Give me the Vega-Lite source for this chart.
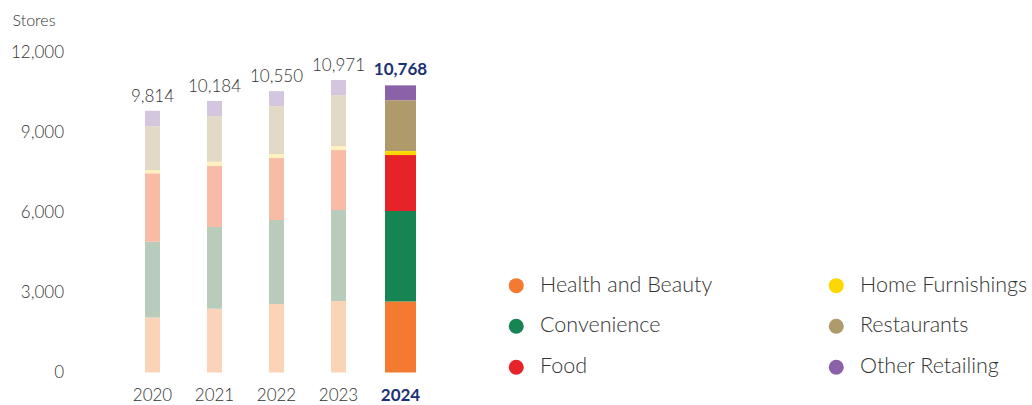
{
  "$schema": "https://vega.github.io/schema/vega-lite/v6.json",
  "width": 310,
  "height": 320,
  "autosize": "none",
  "padding": {"left": 121.5, "top": 52.5, "right": 600.5, "bottom": 32.5},
  "config": {"view": {"stroke": null}, "font": "Lato", "axis": {"labelFontWeight": 300}, "legend": {"labelFontWeight": 300}},
  "data": {"values": [
    {"year": "2020", "category": "Health and Beauty", "stores": 2060},
    {"year": "2020", "category": "Convenience", "stores": 2846},
    {"year": "2020", "category": "Food", "stores": 2562},
    {"year": "2020", "category": "Home Furnishings", "stores": 124},
    {"year": "2020", "category": "Restaurants", "stores": 1648},
    {"year": "2020", "category": "Other Retailing", "stores": 574},
    {"year": "2021", "category": "Health and Beauty", "stores": 2386},
    {"year": "2021", "category": "Convenience", "stores": 3071},
    {"year": "2021", "category": "Food", "stores": 2285},
    {"year": "2021", "category": "Home Furnishings", "stores": 161},
    {"year": "2021", "category": "Restaurants", "stores": 1711},
    {"year": "2021", "category": "Other Retailing", "stores": 570},
    {"year": "2022", "category": "Health and Beauty", "stores": 2573},
    {"year": "2022", "category": "Convenience", "stores": 3146},
    {"year": "2022", "category": "Food", "stores": 2322},
    {"year": "2022", "category": "Home Furnishings", "stores": 150},
    {"year": "2022", "category": "Restaurants", "stores": 1798},
    {"year": "2022", "category": "Other Retailing", "stores": 561},
    {"year": "2023", "category": "Health and Beauty", "stores": 2685},
    {"year": "2023", "category": "Convenience", "stores": 3409},
    {"year": "2023", "category": "Food", "stores": 2247},
    {"year": "2023", "category": "Home Furnishings", "stores": 150},
    {"year": "2023", "category": "Restaurants", "stores": 1910},
    {"year": "2023", "category": "Other Retailing", "stores": 570},
    {"year": "2024", "category": "Health and Beauty", "stores": 2659},
    {"year": "2024", "category": "Convenience", "stores": 3397},
    {"year": "2024", "category": "Food", "stores": 2098},
    {"year": "2024", "category": "Home Furnishings", "stores": 149},
    {"year": "2024", "category": "Restaurants", "stores": 1910},
    {"year": "2024", "category": "Other Retailing", "stores": 555}
  ]},
  "encoding": {
    "x": {
      "field": "year", "type": "ordinal",
      "scale": {"paddingInner": 0, "paddingOuter": 0},
      "axis": {
        "title": null, "domain": false, "ticks": false, "labelAngle": 0,
        "labelFontSize": 17, "labelPadding": 15,
        "labelColor": {"condition": {"test": "datum.value == '2024'", "value": "#1B3176"}, "value": "#333333"},
        "labelFontWeight": {"condition": {"test": "datum.value == '2024'", "value": "bold"}, "value": 300}
      }
    }
  },
  "layer": [
    {
      "transform": [
        {"filter": "datum.year != '2024'"},
        {"calculate": "indexof(['Health and Beauty', 'Convenience', 'Food', 'Home Furnishings', 'Restaurants', 'Other Retailing'], datum.category)", "as": "stackOrder"}
      ],
      "mark": {"type": "bar", "size": 15},
      "encoding": {
        "y": {
          "field": "stores", "type": "quantitative", "stack": "zero",
          "scale": {"domain": [0, 12000]},
          "axis": {
            "title": "Stores", "titleAngle": 0, "titleAlign": "left", "titleBaseline": "middle",
            "titleX": -109.5, "titleY": -32, "titleFontSize": 16, "titleFontWeight": 300, "titleColor": "#333333",
            "values": [0, 3000, 6000, 9000, 12000], "format": ",.0f", "formatType": "number",
            "grid": false, "domain": false, "ticks": false,
            "labelFontSize": 17, "labelColor": "#333333", "labelPadding": 58
          }
        },
        "order": {"field": "stackOrder", "type": "quantitative", "sort": "ascending"},
        "color": {
          "field": "category", "type": "nominal",
          "scale": {
            "domain": ["Health and Beauty", "Convenience", "Food", "Home Furnishings", "Restaurants", "Other Retailing"],
            "range": ["#FBD3B7", "#B9CCBC", "#F7BBA6", "#FDF1BD", "#E2DAC7", "#D5C6E0"]
          },
          "legend": null
        }
      }
    },
    {
      "transform": [
        {"filter": "datum.year == '2024'"},
        {"calculate": "indexof(['Health and Beauty', 'Convenience', 'Food', 'Home Furnishings', 'Restaurants', 'Other Retailing'], datum.category)", "as": "stackOrder"}
      ],
      "mark": {"type": "bar", "size": 31},
      "encoding": {
        "y": {"field": "stores", "type": "quantitative", "stack": "zero"},
        "order": {"field": "stackOrder", "type": "quantitative", "sort": "ascending"},
        "color": {
          "field": "category", "type": "nominal",
          "scale": {
            "domain": ["Health and Beauty", "Convenience", "Food", "Home Furnishings", "Restaurants", "Other Retailing"],
            "range": ["#F47A32", "#178454", "#E52329", "#FFD700", "#AE9A6A", "#8B62A8"]
          },
          "legend": {
            "title": null, "orient": "none", "legendX": 384, "legendY": 222,
            "direction": "vertical", "columns": 2, "columnPadding": 113, "rowPadding": 18,
            "values": ["Health and Beauty", "Convenience", "Food", "Home Furnishings", "Restaurants", "Other Retailing"],
            "symbolType": "circle", "symbolSize": 225, "symbolStrokeWidth": 0,
            "labelFontSize": 21.5, "labelColor": "#333333", "labelOffset": 13, "labelLimit": 300
          }
        }
      }
    },
    {
      "transform": [{"filter": "datum.year != '2024'"}],
      "mark": {"type": "text", "baseline": "bottom", "dy": -5, "fontSize": 17, "fontWeight": 300, "color": "#333333"},
      "encoding": {
        "y": {"aggregate": "sum", "field": "stores", "type": "quantitative"},
        "text": {"aggregate": "sum", "field": "stores", "type": "quantitative", "format": ",.0f", "formatType": "number"}
      }
    },
    {
      "transform": [{"filter": "datum.year == '2024'"}],
      "mark": {"type": "text", "baseline": "bottom", "dy": -6, "fontSize": 17, "fontWeight": "bold", "color": "#1B3176"},
      "encoding": {
        "y": {"aggregate": "sum", "field": "stores", "type": "quantitative"},
        "text": {"aggregate": "sum", "field": "stores", "type": "quantitative", "format": ",.0f", "formatType": "number"}
      }
    }
  ],
  "resolve": {"scale": {"color": "independent"}}
}
